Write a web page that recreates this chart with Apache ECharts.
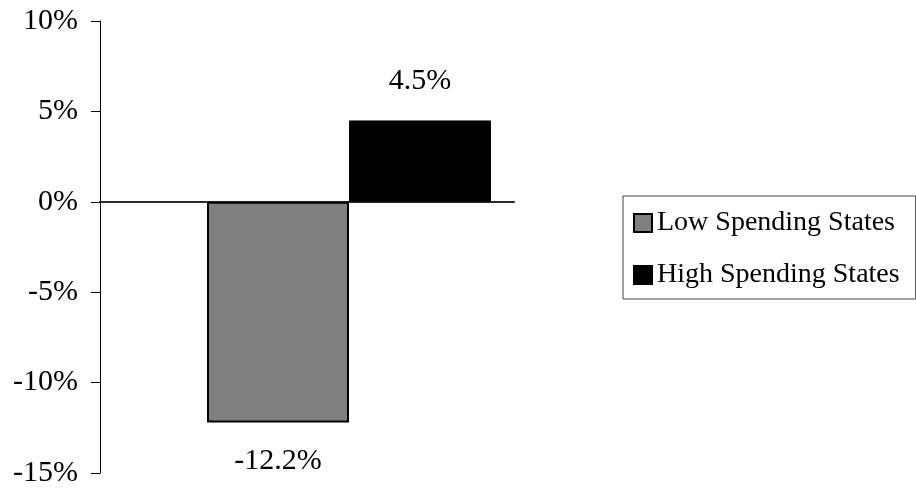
<!DOCTYPE html>
<html>
<head>
<meta charset="utf-8">
<style>
  html, body { margin: 0; padding: 0; background: #fff; }
  #chart { width: 916px; height: 490px; }
</style>
<script src="https://cdn.jsdelivr.net/npm/echarts@6/dist/echarts.min.js"></script>
</head>
<body>
<div id="chart"></div>
<script>
// Percentage change by group of states
const categories = ['Change'];
const seriesNames = ['Low Spending States', 'High Spending States'];
const lowSpending = [-12.2];
const highSpending = [4.5];
const yTicks = { min: -15, max: 10, interval: 5 };

const FONT = '"Liberation Serif", "DejaVu Serif", serif';

const chart = echarts.init(document.getElementById('chart'), null, { renderer: 'canvas' });

const labelStyle = {
  show: true,
  fontFamily: FONT,
  fontSize: 30,
  color: '#000',
  distance: 24,
  formatter: p => p.value.toFixed(1) + '%'
};

chart.setOption({
  backgroundColor: '#fff',
  animation: false,
  textStyle: { fontFamily: FONT },
  grid: { left: 100, top: 21, width: 414, height: 452 },
  legend: {
    data: seriesNames,
    orient: 'vertical',
    left: 623,
    top: 196,
    padding: [13, 16, 10, 10],
    itemGap: 24,
    itemWidth: 18,
    itemHeight: 18,
    icon: 'rect',
    borderColor: '#444',
    borderWidth: 1,
    borderRadius: 0,
    textStyle: { fontFamily: FONT, fontSize: 28, color: '#000', lineHeight: 28 }
  },
  xAxis: {
    type: 'category',
    data: categories,
    axisLine: { show: true, onZero: true, lineStyle: { color: '#2a2a2a', width: 2 } },
    axisTick: { show: false },
    axisLabel: { show: false },
    splitLine: { show: false }
  },
  yAxis: {
    type: 'value',
    min: yTicks.min,
    max: yTicks.max,
    interval: yTicks.interval,
    axisLine: { show: true, lineStyle: { color: '#000', width: 1 } },
    axisTick: { show: true, inside: false, length: 9, lineStyle: { color: '#000', width: 1 } },
    axisLabel: {
      margin: 22,
      fontFamily: FONT,
      fontSize: 30,
      color: '#000',
      formatter: '{value}%'
    },
    splitLine: { show: false }
  },
  series: [
    {
      // empty slot that shifts the pair of bars to the right inside the band
      name: 'offset',
      type: 'bar',
      data: ['-'],
      barWidth: 84,
      barGap: '0%',
      silent: true,
      itemStyle: { color: 'transparent' }
    },
    {
      name: seriesNames[0],
      type: 'bar',
      data: lowSpending,
      barWidth: 142,
      barGap: '0%',
      itemStyle: { color: '#808080', borderColor: '#000', borderWidth: 2 },
      label: Object.assign({ position: 'bottom' }, labelStyle)
    },
    {
      name: seriesNames[1],
      type: 'bar',
      data: highSpending,
      barWidth: 142,
      barGap: '0%',
      itemStyle: { color: '#000', borderColor: '#000', borderWidth: 1 },
      label: Object.assign({ position: 'top' }, labelStyle)
    }
  ]
});
</script>
</body>
</html>
